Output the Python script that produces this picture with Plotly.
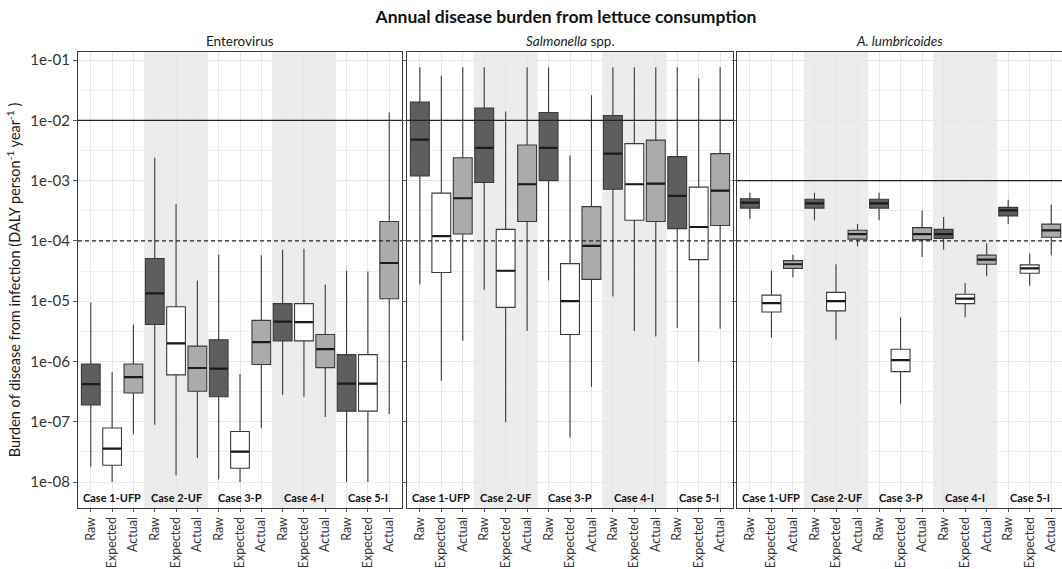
import plotly.graph_objects as go

# ---------------- data ----------------
pathogens = ["Enterovirus", "<i>Salmonella</i> spp.", "<i>A. lumbricoides</i>"]
cases = ["Case 1-UFP", "Case 2-UF", "Case 3-P", "Case 4-I", "Case 5-I"]
groups = ["Raw", "Expected", "Actual"]
tick_vals = [1e-8, 1e-7, 1e-6, 1e-5, 1e-4, 1e-3, 1e-2, 1e-1]
tick_text = ["1e-08", "1e-07", "1e-06", "1e-05", "1e-04", "1e-03", "1e-02", "1e-01"]
solid_limit = [1e-2, 1e-2, 1e-3]
dashed_limit = [1e-4, 1e-4, 1e-4]

# order within each pathogen: C1 Raw, Exp, Act, C2 Raw, Exp, Act, ...
entero_upper = [9.5e-6, 6.6e-7, 4.1e-6, 2.4e-3, 4.1e-4, 2.2e-5, 5.9e-5, 6.2e-7, 5.8e-5, 7.1e-5, 7.4e-5, 1.9e-5, 3.2e-5, 3.1e-5, 1.35e-2]
entero_q3 = [9.1e-7, 7.9e-8, 9.1e-7, 5.1e-5, 8.1e-6, 1.8e-6, 2.3e-6, 6.9e-8, 4.8e-6, 9.1e-6, 9.1e-6, 2.8e-6, 1.3e-6, 1.3e-6, 2.1e-4]
entero_med = [4.2e-7, 3.6e-8, 5.5e-7, 1.35e-5, 2.0e-6, 7.8e-7, 7.6e-7, 3.2e-8, 2.1e-6, 4.6e-6, 4.5e-6, 1.6e-6, 4.3e-7, 4.3e-7, 4.3e-5]
entero_q1 = [1.9e-7, 1.9e-8, 3.0e-7, 4.1e-6, 6.0e-7, 3.2e-7, 2.6e-7, 1.7e-8, 8.9e-7, 2.2e-6, 2.2e-6, 7.9e-7, 1.5e-7, 1.5e-7, 1.1e-5]
entero_lower = [1.8e-8, 1.0e-8, 6.2e-8, 8.9e-8, 1.3e-8, 2.5e-8, 1.1e-8, 1.0e-8, 7.9e-8, 2.8e-7, 2.6e-7, 1.2e-7, 1.0e-8, 1.0e-8, 1.35e-7]

salm_upper = [7.6e-2, 5.5e-2, 7.6e-2, 7.6e-2, 1.4e-2, 7.6e-2, 7.6e-2, 2.6e-3, 2.6e-2, 7.6e-2, 7.6e-2, 7.6e-2, 7.6e-2, 5.0e-2, 7.6e-2]
salm_q3 = [2.0e-2, 6.2e-4, 2.4e-3, 1.6e-2, 1.55e-4, 3.9e-3, 1.35e-2, 4.2e-5, 3.7e-4, 1.2e-2, 4.1e-3, 4.7e-3, 2.5e-3, 7.8e-4, 2.8e-3]
salm_med = [4.8e-3, 1.2e-4, 5.1e-4, 3.5e-3, 3.2e-5, 8.7e-4, 3.5e-3, 1.0e-5, 8.3e-5, 2.8e-3, 8.7e-4, 8.9e-4, 5.6e-4, 1.7e-4, 6.8e-4]
salm_q1 = [1.2e-3, 3.0e-5, 1.3e-4, 9.3e-4, 7.9e-6, 2.1e-4, 1.0e-3, 2.8e-6, 2.3e-5, 7.2e-4, 2.2e-4, 2.1e-4, 1.6e-4, 4.9e-5, 1.8e-4]
salm_lower = [1.9e-5, 4.8e-7, 2.2e-6, 1.55e-5, 9.8e-8, 3.2e-6, 2.2e-5, 5.5e-8, 3.8e-7, 1.2e-5, 3.2e-6, 2.6e-6, 3.6e-6, 1.0e-6, 3.5e-6]

ascaris_upper = [6.3e-4, 3.2e-5, 5.9e-5, 6.3e-4, 4.1e-5, 1.9e-4, 6.3e-4, 5.4e-6, 3.2e-4, 2.5e-4, 2.0e-5, 9.1e-5, 4.8e-4, 6.2e-5, 4.0e-4]
ascaris_q3 = [5.0e-4, 1.26e-5, 4.7e-5, 4.9e-4, 1.4e-5, 1.5e-4, 4.9e-4, 1.6e-6, 1.66e-4, 1.55e-4, 1.3e-5, 5.8e-5, 3.6e-4, 4.0e-5, 1.9e-4]
ascaris_med = [4.3e-4, 9.3e-6, 4.1e-5, 4.2e-4, 1.0e-5, 1.3e-4, 4.2e-4, 1.05e-6, 1.3e-4, 1.3e-4, 1.1e-5, 4.9e-5, 3.2e-4, 3.5e-5, 1.5e-4]
ascaris_q1 = [3.5e-4, 6.6e-6, 3.5e-5, 3.5e-4, 6.9e-6, 1.07e-4, 3.5e-4, 6.8e-7, 1.05e-4, 1.1e-4, 9.1e-6, 4.1e-5, 2.6e-4, 2.9e-5, 1.15e-4]
ascaris_lower = [2.3e-4, 2.5e-6, 2.5e-5, 2.2e-4, 2.3e-6, 8.1e-5, 2.2e-4, 2.0e-7, 5.4e-5, 7.1e-5, 5.4e-6, 2.6e-5, 1.9e-4, 1.8e-5, 5.8e-5]

stats = [
    (entero_lower, entero_q1, entero_med, entero_q3, entero_upper),
    (salm_lower, salm_q1, salm_med, salm_q3, salm_upper),
    (ascaris_lower, ascaris_q1, ascaris_med, ascaris_q3, ascaris_upper),
]

# ---------------- styling ----------------
FONT = "Lato"
fills = {"Raw": "#5e5e5e", "Expected": "#ffffff", "Actual": "#ababab"}
BAND = "#ececec"
GRID = "#e6e6e6"
BORDER = "#3a3a3a"

W, H = 1062, 569
L, R, T, B = 78, 0, 52, 61
pw = W - L - R
domains = [
    [0, (402 - L) / pw],
    [(407 - L) / pw, (733 - L) / pw],
    [(737 - L) / pw, 1.0],
]
xranges = [[-0.6, 14.6], [-0.6, 14.6], [-0.6, 14.5]]
ylog_range = [-8.43, -0.867]

ncat = len(cases) * len(groups)
positions = list(range(ncat))
ticktext = [g for _ in cases for g in groups]

fig = go.Figure()
shapes = []
annotations = []

for p in range(3):
    xa = "x" if p == 0 else f"x{p+1}"
    ya = "y" if p == 0 else f"y{p+1}"
    lower, q1, med, q3, upper = stats[p]
    for gi, g in enumerate(groups):
        idx = [ci * 3 + gi for ci in range(len(cases))]
        xs = [positions[i] for i in idx]
        fig.add_trace(go.Box(
            x=xs,
            lowerfence=[lower[i] for i in idx],
            q1=[q1[i] for i in idx],
            median=[med[i] for i in idx],
            q3=[q3[i] for i in idx],
            upperfence=[upper[i] for i in idx],
            width=0.88,
            whiskerwidth=0,
            fillcolor=fills[g],
            line=dict(color=BORDER, width=1.1),
            boxpoints=False,
            hoverinfo="skip",
            showlegend=False,
            xaxis=xa, yaxis=ya,
        ))
        # thicker median bar (degenerate box at the median)
        mvals = [med[i] for i in idx]
        fig.add_trace(go.Box(
            x=xs, lowerfence=mvals, q1=mvals, median=mvals, q3=mvals, upperfence=mvals,
            width=0.86, whiskerwidth=0, fillcolor="rgba(0,0,0,0)",
            line=dict(color="#1a1a1a", width=2.2),
            boxpoints=False, hoverinfo="skip", showlegend=False,
            xaxis=xa, yaxis=ya,
        ))
    # shaded bands for Case 2 and Case 4
    for ci in (1, 3):
        shapes.append(dict(type="rect", xref=xa, yref=f"{ya} domain",
                           x0=ci * 3 - 0.5, x1=ci * 3 + 2.5, y0=0, y1=1,
                           fillcolor=BAND, line=dict(width=0), layer="below"))
    # limit lines
    shapes.append(dict(type="line", xref=f"{xa} domain", yref=ya, x0=0, x1=1,
                       y0=solid_limit[p], y1=solid_limit[p],
                       line=dict(color="#222222", width=1.2)))
    shapes.append(dict(type="line", xref=f"{xa} domain", yref=ya, x0=0, x1=1,
                       y0=dashed_limit[p], y1=dashed_limit[p],
                       line=dict(color="#222222", width=1.2, dash="4px,3px")))
    # case labels
    for ci, c in enumerate(cases):
        annotations.append(dict(text=f"<b>{c}</b>", xref=xa, yref=ya,
                                x=ci * 3 + 1, y=-8.26, showarrow=False,
                                font=dict(family=FONT, size=11, color="#111111")))
    # facet title
    annotations.append(dict(text=pathogens[p], xref=f"{xa} domain", yref=f"{ya} domain",
                            x=0.5, y=1, yanchor="bottom", yshift=1, showarrow=False,
                            font=dict(family=FONT, size=13.5, color="#1a1a1a")))

    xkey = "xaxis" if p == 0 else f"xaxis{p+1}"
    ykey = "yaxis" if p == 0 else f"yaxis{p+1}"
    fig.layout[xkey] = dict(
        domain=domains[p], range=xranges[p], anchor=ya,
        tickvals=positions, ticktext=ticktext, tickangle=-90,
        ticks="outside", ticklen=3, tickcolor="#555555",
        tickfont=dict(family=FONT, size=12.5, color="#333333"),
        showgrid=True, gridcolor=GRID, gridwidth=1.2, zeroline=False,
        showline=True, mirror=True, linecolor=BORDER, linewidth=1.2,
    )
    fig.layout[ykey] = dict(
        type="log", range=ylog_range, anchor=xa,
        tickvals=tick_vals, ticktext=tick_text, showticklabels=(p == 0),
        ticks="outside", ticklen=4, tickcolor="#555555",
        tickfont=dict(family=FONT, size=15, color="#333333"),
        showgrid=True, gridcolor=GRID, gridwidth=1.2, zeroline=False,
        minor=dict(tickvals=[10 ** (k + 0.5) for k in range(-9, -1)],
                   showgrid=True, gridcolor="#efefef", gridwidth=1, ticks=""),
        showline=True, mirror=True, linecolor=BORDER, linewidth=1.2,
    )

fig.layout.yaxis.title = dict(
    text="Burden of disease from infection (DALY person<sup>-1</sup> year<sup>-1</sup> )",
    font=dict(family=FONT, size=14.5, color="#1a1a1a"), standoff=6)

fig.update_layout(
    width=W, height=H,
    margin=dict(l=L, r=R, t=T, b=B, autoexpand=False),
    paper_bgcolor="white", plot_bgcolor="white",
    shapes=shapes, annotations=annotations,
    title=dict(text="<b>Annual disease burden from lettuce consumption</b>",
               xref="container", x=566 / W, xanchor="center",
               yref="container", y=1 - 17 / H, yanchor="middle",
               font=dict(family=FONT, size=17.5, color="#111111")),
    font=dict(family=FONT),
)

fig.write_html("out.html", config={"displayModeBar": False},
               post_script="document.body.style.margin='0px';")
